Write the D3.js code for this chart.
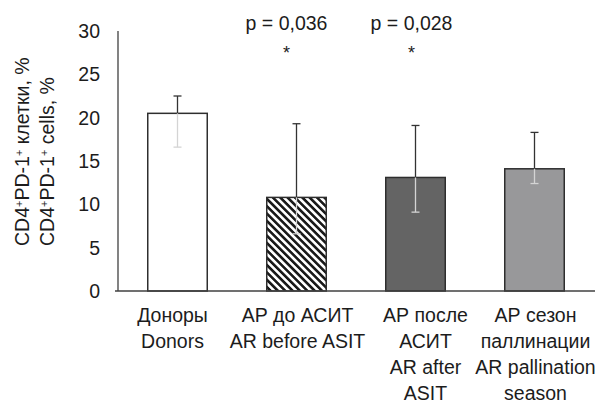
<!DOCTYPE html>
<html>
<head>
<meta charset="utf-8">
<script src="https://cdn.jsdelivr.net/npm/d3@7"></script>
<style>
  body { margin: 0; background: #fff; }
  text { font-family: "Liberation Sans", Arial, sans-serif; fill: #1c1c1c; }
</style>
</head>
<body>
<script>
(function () {

    //chart data
    var categories = ["donors", "before", "after", "season"];
    var labelLines = [
        ["Доноры", "Donors"],
        ["АР до АСИТ", "AR before ASIT"],
        ["АР после", "АСИТ", "AR after", "ASIT"],
        ["АР сезон", "паллинации", "AR pallination", "season"]
    ];
    var means = [20.5, 10.8, 13.1, 14.1];
    var errUpper = [22.5, 19.3, 19.1, 18.3];
    var errLower = [16.6, 6.6, 9.1, 12.4];
    var yTicks = [0, 5, 10, 15, 20, 25, 30];
    var pLabels = [null, "p = 0,036", "p = 0,028", null];

    var width = 598,
        height = 403;

    var svg = d3.select("body")
        .append("svg")
        .attr("width", width)
        .attr("height", height);

    //hatch pattern for the second bar
    var defs = svg.append("defs");
    defs.append("pattern")
        .attr("id", "hatch")
        .attr("patternUnits", "userSpaceOnUse")
        .attr("width", 5.2)
        .attr("height", 5.2)
        .attr("patternTransform", "rotate(-45)")
        .append("rect")
        .attr("width", 2.6)
        .attr("height", 5.2)
        .attr("fill", "#1a1a1a");

    var fills = ["#ffffff", "url(#hatch)", "#646464", "#98989a"];

    var x = d3.scaleBand()
        .domain(categories)
        .range([118, 594])
        .paddingInner(0.5)
        .paddingOuter(0.25);

    var y = d3.scaleLinear()
        .domain([0, 30])
        .range([291, 31]);

    //y axis line and tick labels
    svg.append("line")
        .attr("x1", 118).attr("x2", 118)
        .attr("y1", y(30)).attr("y2", y(0))
        .attr("stroke", "#404040")
        .attr("stroke-width", 1.3);

    svg.selectAll(".ytick")
        .data(yTicks)
        .enter()
        .append("text")
        .attr("class", "ytick")
        .attr("x", 100)
        .attr("y", function (d) { return y(d); })
        .attr("dy", "0.36em")
        .attr("text-anchor", "end")
        .style("font-size", "19.5px")
        .text(function (d) { return d; });

    //bars
    svg.selectAll(".bar")
        .data(means)
        .enter()
        .append("rect")
        .attr("class", "bar")
        .attr("x", function (d, i) { return x(categories[i]); })
        .attr("y", function (d) { return y(d); })
        .attr("width", x.bandwidth())
        .attr("height", function (d) { return y(0) - y(d); })
        .attr("fill", function (d, i) { return fills[i]; })
        .attr("stroke", "#2e2e2e")
        .attr("stroke-width", 1.5);

    //x axis baseline
    svg.append("line")
        .attr("x1", 115).attr("x2", 595)
        .attr("y1", y(0)).attr("y2", y(0))
        .attr("stroke", "#404040")
        .attr("stroke-width", 1.3);

    //error bars: upper part dark, lower part light
    var cap = 4;
    categories.forEach(function (c, i) {
        var cx = x(c) + x.bandwidth() / 2;
        var g = svg.append("g");
        g.append("line")
            .attr("x1", cx).attr("x2", cx)
            .attr("y1", y(errUpper[i])).attr("y2", y(means[i]))
            .attr("stroke", "#333").attr("stroke-width", 1.3);
        g.append("line")
            .attr("x1", cx - cap).attr("x2", cx + cap)
            .attr("y1", y(errUpper[i])).attr("y2", y(errUpper[i]))
            .attr("stroke", "#333").attr("stroke-width", 1.3);
        g.append("line")
            .attr("x1", cx).attr("x2", cx)
            .attr("y1", y(means[i])).attr("y2", y(errLower[i]))
            .attr("stroke", "#d4d4d4").attr("stroke-width", 1.3);
        g.append("line")
            .attr("x1", cx - cap).attr("x2", cx + cap)
            .attr("y1", y(errLower[i])).attr("y2", y(errLower[i]))
            .attr("stroke", "#d4d4d4").attr("stroke-width", 1.3);
    });

    //p-values with asterisks
    var pOffset = [0, -10, -4, 0];
    categories.forEach(function (c, i) {
        if (!pLabels[i]) return;
        var cx = x(c) + x.bandwidth() / 2 + pOffset[i];
        svg.append("text")
            .attr("x", cx).attr("y", 30)
            .attr("text-anchor", "middle")
            .style("font-size", "19.5px")
            .text(pLabels[i]);
        svg.append("text")
            .attr("x", cx).attr("y", 59)
            .attr("text-anchor", "middle")
            .style("font-size", "18px")
            .text("*");
    });

    //category labels
    var labelOffset = [-5, 1, 10, 1];
    categories.forEach(function (c, i) {
        var lx = x(c) + x.bandwidth() / 2 + labelOffset[i];
        var t = svg.append("text")
            .attr("x", lx)
            .attr("y", 322)
            .attr("text-anchor", "middle")
            .style("font-size", "19.5px");
        labelLines[i].forEach(function (line, k) {
            t.append("tspan")
                .attr("x", lx)
                .attr("dy", k === 0 ? 0 : 25.9)
                .text(line);
        });
    });

    //y axis title, two rotated lines
    var titles = [["CD4", "+", "PD-1", "+", " клетки, %"], ["CD4", "+", "PD-1", "+", " cells, %"]];
    titles.forEach(function (parts, k) {
        var t = svg.append("text")
            .attr("transform", "translate(" + (29 + k * 25) + ",246) rotate(-90)")
            .attr("text-anchor", "start")
            .style("font-size", "19.5px");
        parts.forEach(function (p) {
            var ts = t.append("tspan").text(p);
            if (p === "+") {
                ts.attr("baseline-shift", "super").style("font-size", "11px");
            }
        });
    });

})();
</script>
</body>
</html>
